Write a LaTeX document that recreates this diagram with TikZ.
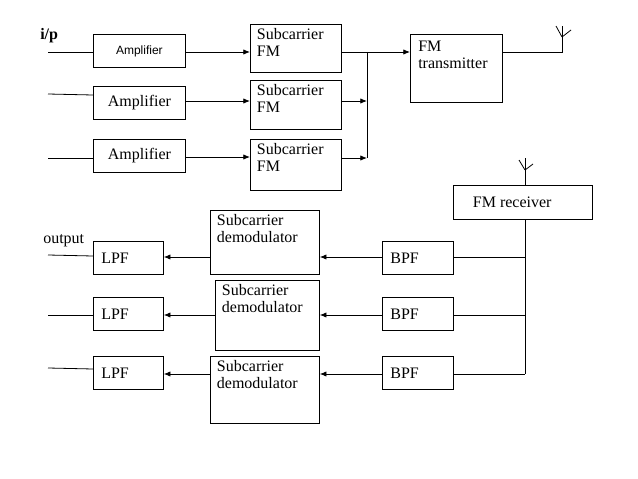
\documentclass[tikz,border=0pt]{standalone}
\usepackage{fontspec}
\setmainfont{Liberation Serif}
\newfontfamily\ampfont{Liberation Sans}
\usetikzlibrary{arrows.meta, positioning}
\begin{document}
\begin{tikzpicture}[x=0.75pt, y=-0.75pt,
      box/.style = {draw, semithick, anchor=north west, align=left, inner sep=0pt},
     line/.style = {semithick},
    arrow/.style = {semithick, -{Latex[length=5pt, width=4pt]}},
     ampl/.style = {box, font=\large, align=center, minimum width=92*0.75pt, minimum height=33*0.75pt},
      lab/.style = {anchor=north west, align=left, font=\large, inner sep=0pt}
                    ]
\useasboundingbox (0,0) rectangle (638,478);
 % transmitter side
\node (amp1) [ampl, font=\ampfont\small] at (93,34) {Amplifier};
\node (amp2) [ampl] at (93,86) {Amplifier};
\node (amp3) [ampl] at (93,139) {Amplifier};
\node (sub1) [box, minimum width=91*0.75pt, minimum height=48*0.75pt] at (250,24) {};
\node (sub2) [box, minimum width=91*0.75pt, minimum height=49*0.75pt] at (250,80) {};
\node (sub3) [box, minimum width=91*0.75pt, minimum height=51*0.75pt] at (250,139) {};
\foreach \i in {1,2,3}
  \node [lab] at ([shift={(5pt,-3pt)}]sub\i.north west) {Subcarrier\\[-1pt]FM};
\node (fmtx) [box, minimum width=92*0.75pt, minimum height=68*0.75pt] at (410,34) {};
\node [lab] at ([shift={(6pt,-5pt)}]fmtx.north west) {FM\\[-1pt]transmitter};
\node (ip) [font=\bfseries\large, anchor=south west, inner sep=0pt] at (40,43) {i/p};
\coordinate (in1) at (48,52);
\coordinate (in2) at (48,94);
\coordinate (in3) at (48,158);
\coordinate (sum) at (367,52);
\coordinate (sumend) at (367,158);
\coordinate (ant1) at (562,52);
\draw[line] (in1) -- (amp1.west |- in1);
\draw[line] (in2) -- (amp2.west |- 0,95);
\draw[line] (in3) -- (amp3.west |- in3);
\draw[arrow] (amp1.east |- in1) -- (sub1.west |- in1);
\draw[arrow] (amp2.east |- 0,101) -- (sub2.west |- 0,101);
\draw[arrow] (amp3.east |- 0,157) -- (sub3.west |- 0,157);
\draw[arrow] (sub1.east |- sum) -- (fmtx.west |- sum);
\draw[arrow] (sub2.east |- 0,101) -- (sum |- 0,101);
\draw[arrow] (sub3.east |- 0,158) -- (sum |- 0,158);
\draw[line] (sum) -- (sumend);
\draw[line] (fmtx.east |- ant1) -- (ant1) -- ++(0,-26);
\draw[line] (ant1) ++(0,-15) -- ++(-6,-11) (ant1) ++(0,-15) -- ++(9,-7);
 % receiver side
\node (fmrx) [box, minimum width=139*0.75pt, minimum height=34*0.75pt, font=\large] at (453,185) {\hspace*{4pt}FM receiver\hspace*{20pt}};
\coordinate (ant2) at (525,185);
\draw[line] (ant2) -- ++(0,-27);
\draw[line] (ant2) ++(0,-15) -- ++(-6,-10) (ant2) ++(0,-15) -- ++(8,-6);
\foreach \i/\t in {1/241, 2/297, 3/356} {
  \node (bpf\i) [box, minimum width=71*0.75pt, minimum height=33*0.75pt, font=\large] at (382,\t) {\hspace*{4pt}BPF\hspace*{24pt}};
  \node (lpf\i) [box, minimum width=70*0.75pt, minimum height=33*0.75pt, font=\large] at (93,\t) {\hspace*{4pt}LPF\hspace*{24pt}};
}
\node (dem1) [box, minimum width=109*0.75pt, minimum height=64*0.75pt] at (210,210) {};
\node (dem2) [box, minimum width=104*0.75pt, minimum height=70*0.75pt] at (215,280) {};
\node (dem3) [box, minimum width=109*0.75pt, minimum height=67*0.75pt] at (210,356) {};
\foreach \i in {1,2,3}
  \node [lab] at ([shift={(5pt,-3pt)}]dem\i.north west) {Subcarrier\\[-1pt]demodulator};
\node (out) [font=\large, anchor=south west, inner sep=0pt] at (43,247) {output};
\coordinate (rx) at (525,219);
\coordinate (rxend) at (525,374);
\draw[line] (fmrx.south -| rx) -- (rxend);
\foreach \i/\y in {1/257, 2/315, 3/374} {
  \draw[line] (bpf\i.east |- 0,\y) -- (rx |- 0,\y);
  \draw[arrow] (bpf\i.west |- 0,\y) -- (dem\i.east |- 0,\y);
  \draw[arrow] (dem\i.west |- 0,\y) -- (lpf\i.east |- 0,\y);
}
\draw[line] (48,255) -- (lpf1.west |- 0,256);
\draw[line] (48,315) -- (lpf2.west |- 0,315);
\draw[line] (48,368) -- (lpf3.west |- 0,369);
\end{tikzpicture}
\end{document}
